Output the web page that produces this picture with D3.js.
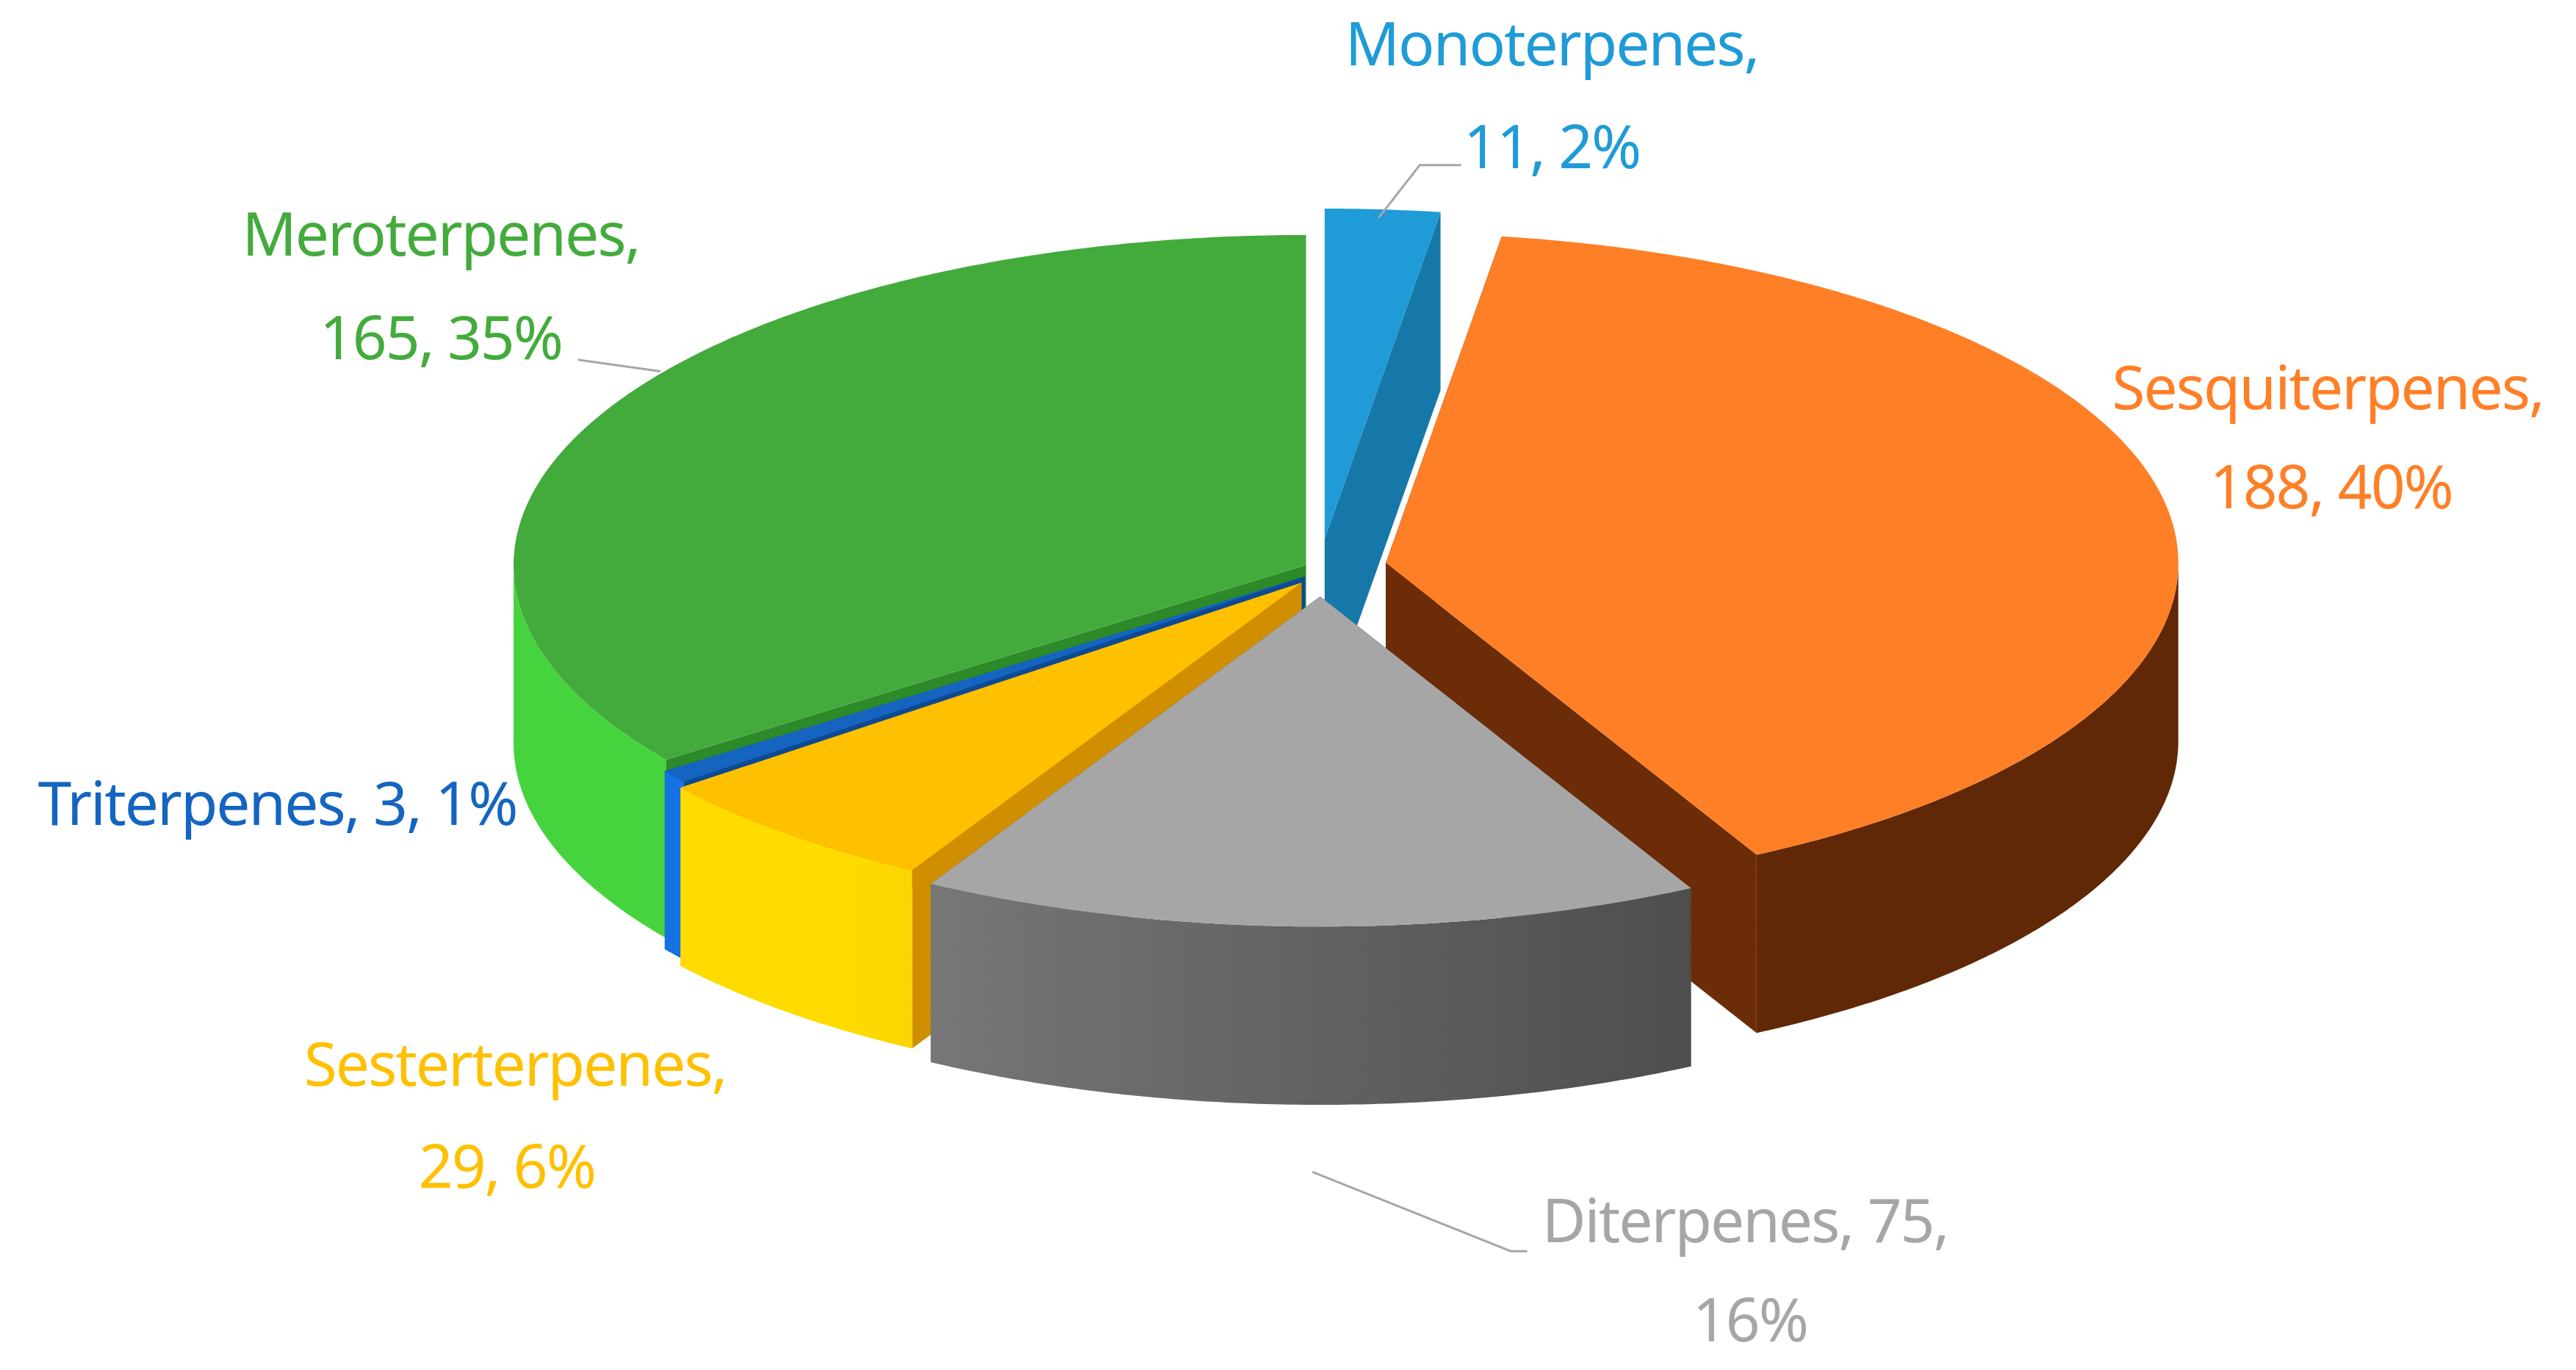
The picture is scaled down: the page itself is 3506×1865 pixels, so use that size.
<!DOCTYPE html>
<html><head><meta charset="utf-8">
<script src="https://cdn.jsdelivr.net/npm/d3@7"></script>
<style>body{margin:0;background:#fff}</style>
</head><body>
<svg id="chart" width="3506" height="1865"></svg>
<script>
const categories = ["Monoterpenes", "Sesquiterpenes", "Diterpenes", "Sesterterpenes", "Triterpenes", "Meroterpenes"];
const counts = [11, 188, 75, 29, 3, 165];
const percents = ["2%", "40%", "16%", "6%", "1%", "35%"];
const topColors = ["#1f9bd7", "#ff7f27", "#a6a6a6", "#ffc000", "#1565c0", "#43ab3c"];
const sideColors = ["#1678a8", "#6b2c07", "#505050", "#d08f00", "#0d4a94", "#2d8a28"];
const explode = [32, 40, 28, 18, 12, 10];

const s = 2.247; // reference px -> page px
const cx = 800 * s, cy = 345 * s, rx = 480 * s, ry = 200 * s, depth = 108 * s;

const svg = d3.select("#chart");
const defs = svg.append("defs");

const pie = d3.pie().sort(null).value(d => d)(counts);

function pt(a, ox, oy, dz) {
    return [cx + ox + Math.sin(a) * rx, cy + oy - Math.cos(a) * ry + (dz || 0)];
}
function arcPts(a0, a1, ox, oy, dz) {
    const n = Math.max(2, Math.ceil((a1 - a0) / 0.01));
    return d3.range(n + 1).map(i => pt(a0 + (a1 - a0) * i / n, ox, oy, dz));
}
const line = d3.line();

const order = pie.map((d, i) => i)
    .sort((a, b) => -Math.cos((pie[a].startAngle + pie[a].endAngle) / 2) + Math.cos((pie[b].startAngle + pie[b].endAngle) / 2));

order.forEach(i => {
    const d = pie[i];
    const mid = (d.startAngle + d.endAngle) / 2;
    const ox = Math.sin(mid) * explode[i] * s, oy = -Math.cos(mid) * explode[i] * s * (ry / rx) * 1.4;
    const c = [cx + ox, cy + oy];
    const g = svg.append("g");

    const grad = defs.append("linearGradient").attr("id", "side" + i)
        .attr("gradientUnits", "userSpaceOnUse")
        .attr("x1", cx - rx * 0.6).attr("x2", cx + rx * 0.6).attr("y1", 0).attr("y2", 0);
    grad.append("stop").attr("offset", 0).attr("stop-color", d3.color(sideColors[i]).brighter(1.2));
    grad.append("stop").attr("offset", 1).attr("stop-color", d3.color(sideColors[i]).darker(0.3));

    // radial cut walls
    [d.startAngle, d.endAngle].forEach(a => {
        const p = pt(a, ox, oy);
        const quad = [c, p, [p[0], p[1] + depth], [c[0], c[1] + depth]];
        g.append("path").attr("d", line(quad) + "Z").attr("fill", sideColors[i]);
    });
    // outer wall (front half only)
    const w0 = Math.max(d.startAngle, Math.PI / 2), w1 = Math.min(d.endAngle, 3 * Math.PI / 2);
    if (w1 > w0) {
        const top = arcPts(w0, w1, ox, oy, 0);
        const bot = arcPts(w0, w1, ox, oy, depth).reverse();
        g.append("path").attr("d", line(top.concat(bot)) + "Z").attr("fill", "url(#side" + i + ")");
    }
    // top face
    const face = [c].concat(arcPts(d.startAngle, d.endAngle, ox, oy, 0));
    g.append("path").attr("d", line(face) + "Z").attr("fill", topColors[i]);
});

// labels
const labelLines = [
    [["Monoterpenes,", 940, 30], ["11, 2%", 940, 92]],
    [["Sesquiterpenes,", 1410, 238], ["188, 40%", 1412, 298]],
    [["Diterpenes, 75,", 1057, 743], ["16%", 1060, 803]],
    [["Sesterterpenes,", 312, 648], ["29, 6%", 307, 710]],
    [["Triterpenes, 3, 1%", 168, 490]],
    [["Meroterpenes,", 267, 145], ["165, 35%", 267, 208]]
];
const leaders = [
    [[835, 132], [860, 100], [885, 100]],
    null,
    [[795, 710], [915, 758], [925, 758]],
    null,
    null,
    [[350, 218], [400, 225]]
];
labelLines.forEach((rows, i) => {
    const col = i === 2 ? "#a6a6a6" : topColors[i];
    rows.forEach(([t, x, y]) => {
        svg.append("text").attr("x", x * s).attr("y", y * s)
            .attr("text-anchor", "middle").attr("dominant-baseline", "middle")
            .attr("font-family", "Noto Sans, sans-serif").attr("font-size", 82)
            .attr("letter-spacing", -2)
            .attr("fill", col).text(t);
    });
    if (leaders[i]) {
        svg.append("path").attr("d", line(leaders[i].map(p => [p[0] * s, p[1] * s])))
            .attr("fill", "none").attr("stroke", "#a6a6a6").attr("stroke-width", 3);
    }
});
</script>
</body></html>
